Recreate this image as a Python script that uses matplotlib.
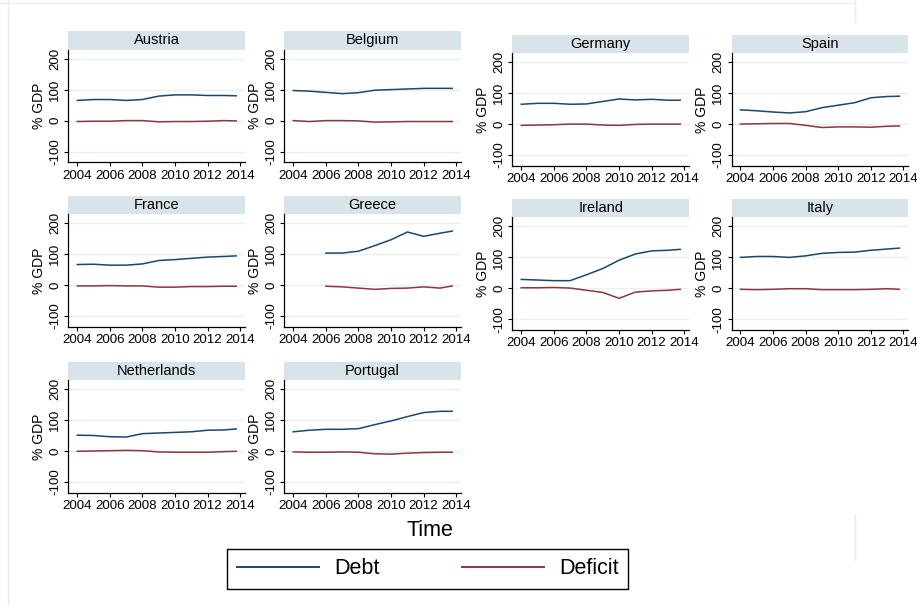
import numpy as np
import matplotlib
matplotlib.use("Agg")
import matplotlib.pyplot as plt
from matplotlib.patches import Rectangle
from matplotlib.lines import Line2D

plt.rcParams['font.family'] = ['Liberation Sans', 'DejaVu Sans']

# time points (years, last point = end of the series)
t_full = [2004, 2005, 2006, 2007, 2008, 2009, 2010, 2011, 2012, 2013, 2013.75]
t_greece = [2006, 2007, 2008, 2009, 2010, 2011, 2012, 2013, 2013.75]

countries = ["Austria", "Belgium", "Germany", "Spain",
             "France", "Greece", "Ireland", "Italy",
             "Netherlands", "Portugal"]

debt_austria = [65, 68, 68, 65, 68, 79, 83, 83, 81, 81, 80]
deficit_austria = [-3, -2, -2, 0, 0, -4, -3, -3, -2, 0, -1]
debt_belgium = [97, 95, 91, 87, 90, 98, 100, 102, 104, 104, 104]
deficit_belgium = [0, -3, 0, 0, -1, -5, -4, -3, -3, -3, -3]
debt_germany = [64, 67, 67, 64, 65, 73, 81, 78, 80, 77, 77]
deficit_germany = [-4, -3, -2, 0, 0, -3, -4, -1, 0, 0, 0]
debt_spain = [46, 43, 39, 36, 40, 53, 61, 69, 85, 89, 90]
deficit_spain = [0, 1, 2, 2, -4, -11, -9, -9, -10, -7, -6]
debt_france = [66, 67, 64, 64, 68, 79, 82, 86, 90, 92, 94]
deficit_france = [-3, -3, -2, -3, -3, -7, -7, -5, -5, -4, -4]
debt_greece = [103, 103, 109, 127, 146, 171, 157, 167, 174]
deficit_greece = [-4, -6, -10, -14, -11, -10, -6, -10, -3]
debt_ireland = [29, 27, 25, 25, 44, 64, 91, 111, 121, 123, 126]
deficit_ireland = [2, 2, 3, 1, -6, -13, -32, -12, -8, -6, -3]
debt_italy = [100, 103, 103, 100, 105, 113, 116, 117, 123, 127, 130]
deficit_italy = [-3, -4, -3, -1, -1, -4, -4, -4, -3, -1, -3]
debt_netherlands = [51, 50, 46, 45, 56, 58, 60, 62, 67, 68, 71]
deficit_netherlands = [-1, 0, 1, 2, 1, -3, -4, -4, -4, -2, -1]
debt_portugal = [62, 67, 70, 70, 72, 85, 97, 111, 124, 128, 128]
deficit_portugal = [-3, -4, -4, -3, -4, -9, -10, -7, -5, -4, -4]

debts = [debt_austria, debt_belgium, debt_germany, debt_spain, debt_france,
         debt_greece, debt_ireland, debt_italy, debt_netherlands, debt_portugal]
deficits = [deficit_austria, deficit_belgium, deficit_germany, deficit_spain,
            deficit_france, deficit_greece, deficit_ireland, deficit_italy,
            deficit_netherlands, deficit_portugal]

x_ticks = [2004, 2006, 2008, 2010, 2012, 2014]
y_ticks = [-100, 0, 100, 200]

DEBT_C = "#1a476f"
DEF_C = "#90353b"
STRIP_C = "#d9e4ea"
GRID_C = "#e8f0f2"

W, H = 917, 605
fig = plt.figure(figsize=(W / 100, H / 100), dpi=100)

# panel layout in pixels
col_left = [68.3, 284.3, 512.3, 731.5]
zero_y = {(0, 0): 120.6, (0, 1): 124.1, (1, 0): 285.0, (1, 1): 288.4,
          (2, 0): 451.0}
px_per_unit = 0.31
ylo, yhi = -135, 229
xlo, xhi = 2003.45, 2014.29
ax_w = 176.7
strip_h = 18.5

for i, name in enumerate(countries):
    row, col = divmod(i, 4)
    z = zero_y[(row, 0 if col < 2 else 1)]
    top = z - yhi * px_per_unit
    bot = z - ylo * px_per_unit
    left = col_left[col]
    ax = fig.add_axes([left / W, 1 - bot / H, ax_w / W, (bot - top) / H])
    t = t_greece if name == "Greece" else t_full
    for yv in y_ticks:
        ax.axhline(yv, color=GRID_C, lw=1.0, zorder=0)
    ax.plot(t, debts[i], color=DEBT_C, lw=1.1)
    ax.plot(t, deficits[i], color=DEF_C, lw=1.1)
    ax.set_xlim(xlo, xhi)
    ax.set_ylim(ylo, yhi)
    ax.set_xticks(x_ticks)
    ax.set_yticks(y_ticks)
    ax.set_yticklabels([str(v) for v in y_ticks], rotation=90, va='center')
    ax.tick_params(labelsize=9.6, length=3, width=0.8, pad=2.2)
    ax.set_ylabel("% GDP", fontsize=10, labelpad=2)
    for s in ['top', 'right']:
        ax.spines[s].set_visible(False)
    for s in ['left', 'bottom']:
        ax.spines[s].set_linewidth(0.9)
    hf = strip_h / (bot - top)
    ax.add_patch(Rectangle((0, 1), 1, hf, transform=ax.transAxes,
                           facecolor=STRIP_C, edgecolor='none', clip_on=False))
    ax.text(0.5, 1 + hf / 2, name, transform=ax.transAxes, ha='center',
            va='center', fontsize=10.5)

fig.text(430 / W, 1 - 530 / H, "Time", ha='center', va='center', fontsize=15.5)

handles = [Line2D([], [], color=DEBT_C, lw=1.4),
           Line2D([], [], color=DEF_C, lw=1.4)]
fig.legend(handles, ["Debt", "Deficit"], loc='center',
           bbox_to_anchor=(427.8 / W, 1 - 568.8 / H), ncol=2, frameon=True,
           fancybox=False, edgecolor='black', fontsize=15.5, handlelength=3.8,
           handletextpad=0.7, columnspacing=3.85, borderpad=0.45,
           framealpha=1)

# faint outer frame of the combined graph
fig.add_artist(Line2D([8 / W, 8 / W], [0, 1], color="#e4eef0", lw=1))
fig.add_artist(Line2D([855 / W, 855 / W], [1 - 22 / H, 1], color="#e4eef0", lw=1))
fig.add_artist(Line2D([855 / W, 855 / W], [1 - 560 / H, 1 - 515 / H], color="#e4eef0", lw=1))
fig.add_artist(Line2D([0, 855 / W], [1 - 3 / H, 1 - 3 / H], color="#e4eef0", lw=1))

fig.savefig("out.png", dpi=100)
